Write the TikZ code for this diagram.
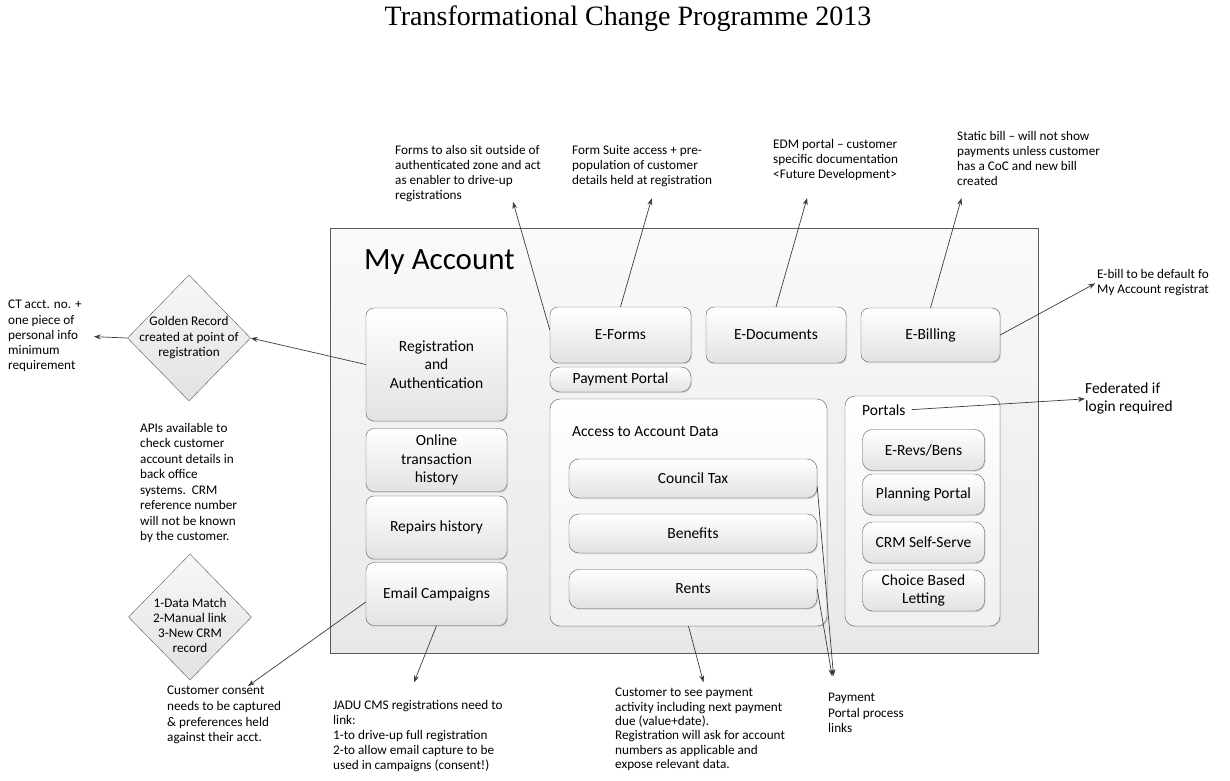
\documentclass[tikz,border=0pt]{standalone}
\usepackage{fontspec}
\setmainfont{Carlito}
\newfontfamily\titlefont{Liberation Serif}
\usetikzlibrary{shapes.geometric,shadows,arrows.meta}
\definecolor{boxline}{HTML}{5A5A5A}
\definecolor{linkgray}{HTML}{3C3C3C}
\definecolor{boxfill}{HTML}{E2E2E2}
\definecolor{panelfill}{HTML}{F0F0F0}
\tikzset{
  box/.style={draw=boxline, rounded corners=8pt, top color=white, bottom color=boxfill,
    drop shadow={shadow xshift=1pt, shadow yshift=-1.2pt, opacity=0.25},
    align=center, font=\fontsize{15.5}{18.7}\selectfont},
  panel/.style={draw=boxline, rounded corners=10pt, top color=white, bottom color=panelfill,
    drop shadow={shadow xshift=1pt, shadow yshift=-1.2pt, opacity=0.2}},
  note/.style={align=left, inner sep=0pt, font=\fontsize{13.2}{15}\selectfont},
  label/.style={inner sep=0pt, font=\fontsize{15.5}{18.7}\selectfont},
  decision/.style={diamond, draw=boxline, top color=white!97!black, bottom color=boxfill,
    minimum width=123pt, minimum height=126pt, inner sep=0pt},
  link/.style={draw=linkgray, line width=0.7pt, -{Stealth[length=7pt,width=5pt]}}
}

\begin{document}
\begin{tikzpicture}[x=1pt,y=-1pt]
\fill[white] (0,0) rectangle (1230,780);
\useasboundingbox (0,0) rectangle (1230,780);

\node[font=\titlefont\fontsize{28}{32}\selectfont] (title) at (628,19) {Transformational Change Programme 2013};

\node[draw=boxline, line width=0.8pt, top color=white!98!black, bottom color=white!91!black,
  minimum width=708pt, minimum height=425pt, inner sep=0pt] (myacc) at (684,440.5) {};
\node[anchor=west, inner sep=0pt, font=\fontsize{31}{35}\selectfont] (acctitle) at (364,262) {My Account};

\node[box, minimum width=141pt, minimum height=113pt] (reg) at (436.5,364.5) {Registration\\and\\Authentication};
\foreach \n/\y/\t in {online/460/{Online\\transaction\\history}, repairs/527.5/Repairs history, email/594/Email Campaigns}
  \node[box, minimum width=141pt, minimum height=63pt] (\n) at (436.5,\y) {\t};

\node[box, minimum width=141pt, minimum height=56pt] (eforms) at (620.5,335) {E-Forms};
\node[box, minimum width=140pt, minimum height=56pt] (edocs) at (776,335) {E-Documents};
\node[box, minimum width=139pt, minimum height=54pt] (ebill) at (930.5,335) {E-Billing};
\node[box, rounded corners=10pt, minimum width=141pt, minimum height=25pt, inner sep=0pt] (payportal) at (620.5,379.5) {Payment Portal};

\node[panel, minimum width=277pt, minimum height=227pt] (access) at (688.5,512.5) {};
\node[label, anchor=west] (accesslbl) at (572,432) {Access to Account Data};
\foreach \n/\y/\t in {ctax/478.5/Council Tax, benefits/533.5/Benefits, rents/589/Rents}
  \node[box, rounded corners=10pt, minimum width=248pt, minimum height=39pt] (\n) at (693,\y) {\t};

\node[panel, minimum width=155pt, minimum height=230pt] (portals) at (922.5,511) {};
\node[label, anchor=west] (portallbl) at (862,410) {Portals};
\foreach \n/\y/\t in {erevs/450/{E-Revs/Bens}, planning/494.5/Planning Portal, crm/542.5/CRM Self-Serve, cbl/590.5/{Choice Based\\Letting}}
  \node[box, rounded corners=10pt, minimum width=122pt, minimum height=41pt] (\n) at (923.5,\y) {\t};

\node[decision] (gold) at (189,338) {};
\node[note, align=center, font=\fontsize{13.2}{15.5}\selectfont] (goldtxt) at (189,338) {Golden Record\\created at point of\\registration};
\node[decision] (match) at (190,617) {};
\node[note, align=center] (matchtxt) at (190,625.5) {1-Data Match\\2-Manual link\\3-New CRM\\record};

\node[note, anchor=north west] (formsnote) at (395,145) {Forms to also sit outside of\\authenticated zone and act\\as enabler to drive-up\\registrations};
\node[note, anchor=north west] (suitenote) at (572,145) {Form Suite access + pre-\\population of customer\\details held at registration};
\node[note, anchor=north west] (edmnote) at (773,139) {EDM portal -- customer\\specific documentation\\<Future Development>};
\node[note, anchor=north west] (staticnote) at (957,131) {Static bill -- will not show\\payments unless customer\\has a CoC and new bill\\created};
\node[note, anchor=north west] (ebillnote) at (1097,269) {E-bill to be default fo\\My Account registrat};
\node[note, anchor=north west, font=\fontsize{15.4}{18}\selectfont] (fed) at (1085,383) {Federated if\\login required};
\node[note, anchor=north west, font=\fontsize{13.2}{15.3}\selectfont] (ctnote) at (8,300) {CT acct. no. +\\one piece of\\personal info\\minimum\\requirement};
\node[note, anchor=north west, font=\fontsize{13.2}{15.5}\selectfont] (apinote) at (140,423) {APIs available to\\check customer\\account details in\\back office\\systems.\ \ CRM\\reference number\\will not be known\\by the customer.};
\node[note, anchor=north west, font=\fontsize{13.2}{15.7}\selectfont] (consent) at (167,686) {Customer consent\\needs to be captured\\\& preferences held\\against their acct.};
\node[note, anchor=north west] (jadu) at (333,700) {JADU CMS registrations need to\\link:\\1-to drive-up full registration\\2-to allow email capture to be\\used in campaigns (consent!)};
\node[note, anchor=north west, font=\fontsize{13.2}{14.4}\selectfont] (seenote) at (615,688) {Customer to see payment\\activity including next payment\\due (value+date).\\Registration will ask for account\\numbers as applicable and\\expose relevant data.};
\node[note, anchor=north west, font=\fontsize{13.2}{15.5}\selectfont] (pplinks) at (828,693) {Payment\\Portal process\\links};

\draw[link] (reg.west) -- (gold.east);
\draw[link, shorten >=12pt] (gold.west) -- (ctnote.east);
\draw[link] ([yshift=5pt]eforms.west) -- ([xshift=118pt]formsnote.south west);
\draw[link, shorten >=12pt] (eforms.north) -- ([xshift=83pt]suitenote.south west);
\draw[link, shorten >=18pt] (edocs.north) -- ([xshift=39pt]edmnote.south west);
\draw[link, shorten >=13pt] (ebill.north) -- ([xshift=8pt]staticnote.south west);
\draw[link, shorten >=2pt] (ebill.east) -- (ebillnote.west);
\draw[link, shorten <=6pt] (portallbl.east) -- (fed.west);
\draw[link] ([yshift=-8pt]email.west) -- ([xshift=81pt]consent.north west);
\draw[link, shorten >=19pt] (email.south) -- ([xshift=74pt]jadu.north west);
\draw[link, shorten >=6pt] (access.south) -- ([xshift=90pt]seenote.north west);
\draw[link, shorten >=17pt] ([yshift=-8pt]ctax.east) -- ([xshift=7pt]pplinks.north west);
\draw[link, shorten >=17pt] (rents.east) -- ([xshift=7pt]pplinks.north west);
\end{tikzpicture}
\end{document}
